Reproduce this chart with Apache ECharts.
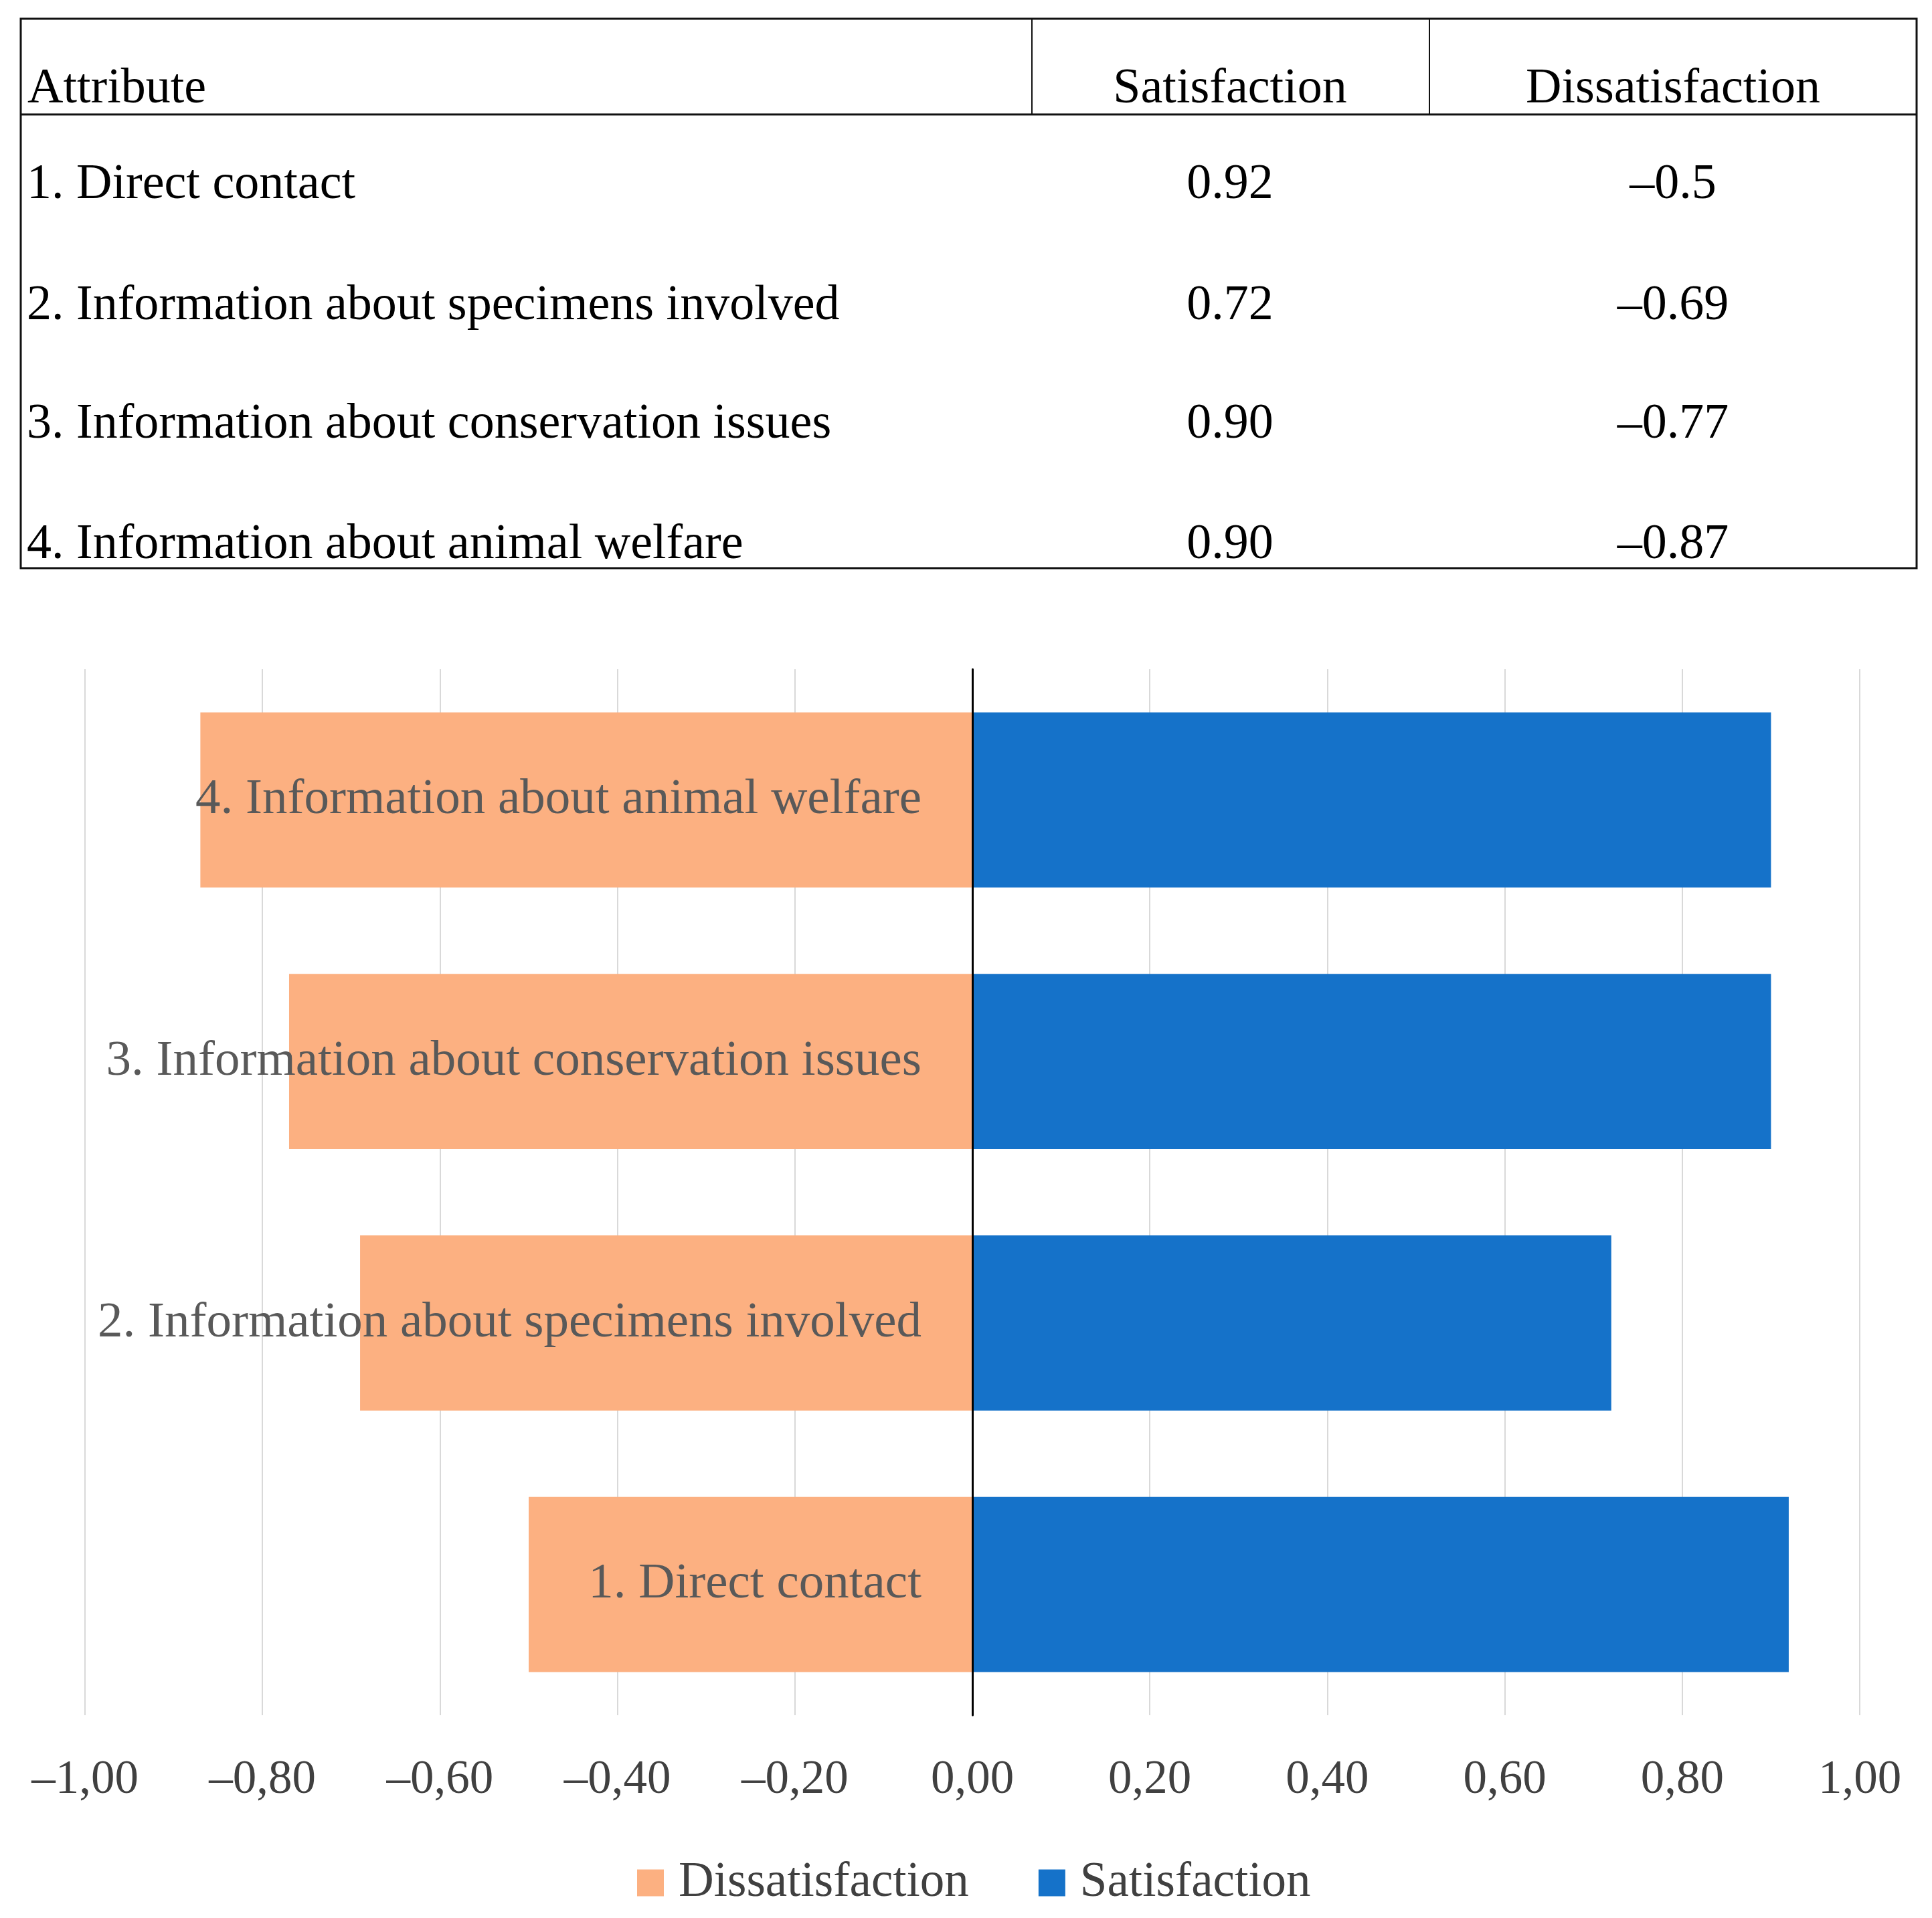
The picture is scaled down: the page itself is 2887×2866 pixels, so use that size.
<!DOCTYPE html>
<html>
<head>
<meta charset="utf-8">
<title>Satisfaction / Dissatisfaction</title>
<script src="https://cdn.jsdelivr.net/npm/echarts@6/dist/echarts.min.js"></script>
<style>
    html, body { margin: 0; padding: 0; background: #fff; }
    #chart { width: 2887px; height: 2866px; }
</style>
</head>
<body>
<div id="chart"></div>
<script>
var tableHeader = ['Attribute', 'Satisfaction', 'Dissatisfaction'];
var attributes = [
    '1. Direct contact',
    '2. Information about specimens involved',
    '3. Information about conservation issues',
    '4. Information about animal welfare'
];
var satisfaction = [0.92, 0.72, 0.90, 0.90];
var dissatisfaction = [-0.5, -0.69, -0.77, -0.87];
var axisTicks = [-1, -0.8, -0.6, -0.4, -0.2, 0, 0.2, 0.4, 0.6, 0.8, 1];

var serif = "'Liberation Serif', 'DejaVu Serif', serif";

var gridLeft = 127, gridRight = 108, chartWidth = 2887;
var xMin = axisTicks[0], xMax = axisTicks[axisTicks.length - 1];
// distance from grid left edge to the zero of the value axis
var zeroOffset = (0 - xMin) / (xMax - xMin) * (chartWidth - gridLeft - gridRight);

function fmtAxis(v) {
    // European style ticks: –0,80
    var s = Math.abs(v).toFixed(2).replace('.', ',');
    return v < 0 ? '\u2013' + s : s;
}

function fmtTableNeg(v) {
    return v < 0 ? '\u2013' + String(-v) : String(v);
}

// table drawn as graphic elements above the chart
function buildTable() {
    var els = [];
    var left = 31, right = 2864, top = 28, headBottom = 171, bottom = 849;
    var col1 = 1542, col2 = 2136;
    var rowY = [277, 458, 635, 815];
    var font = 'normal 74px ' + serif;

    els.push({type: 'rect', shape: {x: left, y: top, width: right - left, height: bottom - top},
        style: {fill: 'none', stroke: '#111', lineWidth: 3}});
    els.push({type: 'line', shape: {x1: left, y1: headBottom, x2: right, y2: headBottom},
        style: {stroke: '#111', lineWidth: 3}});
    els.push({type: 'line', shape: {x1: col1, y1: top, x2: col1, y2: headBottom},
        style: {stroke: '#111', lineWidth: 2}});
    els.push({type: 'line', shape: {x1: col2, y1: top, x2: col2, y2: headBottom},
        style: {stroke: '#111', lineWidth: 2}});

    els.push({type: 'text', x: 41, y: 134, style: {text: tableHeader[0], font: font, fill: '#000',
        textAlign: 'left', textVerticalAlign: 'middle'}});
    els.push({type: 'text', x: 1838, y: 134, style: {text: tableHeader[1], font: font, fill: '#000',
        textAlign: 'center', textVerticalAlign: 'middle'}});
    els.push({type: 'text', x: 2500, y: 134, style: {text: tableHeader[2], font: font, fill: '#000',
        textAlign: 'center', textVerticalAlign: 'middle'}});

    for (var i = 0; i < attributes.length; i++) {
        els.push({type: 'text', x: 40, y: rowY[i], style: {text: attributes[i], font: font, fill: '#000',
            textAlign: 'left', textVerticalAlign: 'middle'}});
        els.push({type: 'text', x: 1838, y: rowY[i], style: {text: satisfaction[i].toFixed(2), font: font,
            fill: '#000', textAlign: 'center', textVerticalAlign: 'middle'}});
        els.push({type: 'text', x: 2500, y: rowY[i], style: {text: fmtTableNeg(dissatisfaction[i]), font: font,
            fill: '#000', textAlign: 'center', textVerticalAlign: 'middle'}});
    }
    return els;
}

var dom = document.getElementById('chart');
var myChart = echarts.init(dom);
var option = {
    backgroundColor: '#fff',
    animation: false,
    graphic: buildTable(),
    grid: {
        left: gridLeft,
        right: gridRight,
        top: 1000,
        bottom: 303,
        containLabel: false,
        outerBoundsMode: 'none'
    },
    legend: {
        data: ['Dissatisfaction', 'Satisfaction'],
        left: 952,
        top: 2777,
        padding: 0,
        icon: 'rect',
        itemWidth: 40,
        itemHeight: 40,
        itemGap: 104,
        textStyle: {
            fontFamily: serif,
            fontSize: 73,
            color: '#404040',
            padding: [0, 0, 0, 17]
        }
    },
    xAxis: {
        type: 'value',
        min: xMin,
        max: xMax,
        interval: 0.2,
        axisLine: {show: false},
        axisTick: {show: false},
        splitLine: {
            show: true,
            lineStyle: {color: '#d9d9d9', width: 2}
        },
        axisLabel: {
            fontFamily: serif,
            fontSize: 71,
            color: '#404040',
            margin: 62,
            hideOverlap: false,
            formatter: function (v) {
                return fmtAxis(v);
            }
        }
    },
    yAxis: {
        type: 'category',
        data: attributes,
        position: 'left',
        offset: -zeroOffset,
        z: 10,
        axisLine: {
            show: true,
            onZero: false,
            lineStyle: {color: '#000', width: 3}
        },
        axisTick: {show: false},
        splitLine: {show: false},
        axisLabel: {
            fontFamily: serif,
            fontSize: 75,
            color: '#595959',
            margin: 76
        }
    },
    series: [
        {
            name: 'Dissatisfaction',
            type: 'bar',
            stack: 'total',
            barWidth: '67%',
            data: dissatisfaction,
            itemStyle: {color: '#FCB081'}
        },
        {
            name: 'Satisfaction',
            type: 'bar',
            stack: 'total',
            barWidth: '67%',
            data: satisfaction,
            itemStyle: {color: '#1572C9'}
        }
    ]
};
if (option && typeof option === "object") {
    myChart.setOption(option, true);
}
</script>
</body>
</html>
